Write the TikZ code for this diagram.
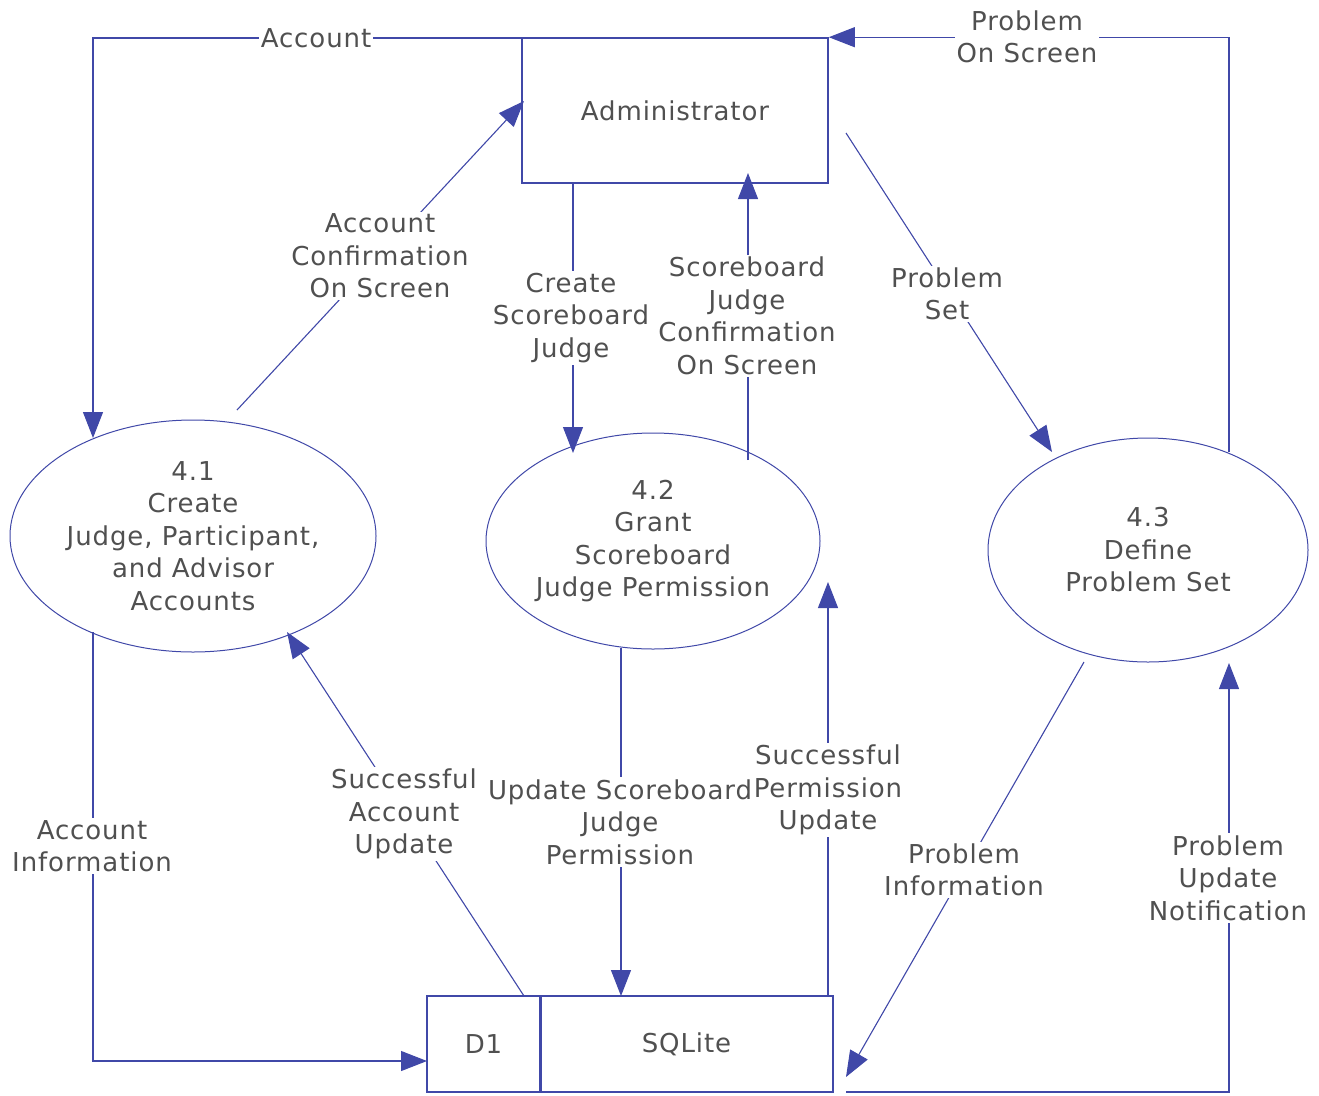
\documentclass[tikz,border=0pt]{standalone}
\usepackage{fontspec}
\setmainfont[LetterSpace=3.5]{DejaVu Sans}
\usetikzlibrary{shapes.geometric,arrows.meta}
\definecolor{ln}{RGB}{64,72,168}
\definecolor{tx}{RGB}{80,80,80}
\begin{document}
\begin{tikzpicture}[x=1pt,y=-1pt,
  txt/.style={text=tx,align=center,font=\fontsize{26}{32.5}\selectfont},
  flow/.style={draw=ln,line width=1.1pt,-{Triangle[length=26pt,width=20pt]}},
  lbl/.style={txt,fill=white,inner sep=2pt},
  proc/.style={txt,ellipse,draw=ln,line width=1pt,inner sep=0pt},
  ent/.style={txt,rectangle,draw=ln,line width=1.6pt,inner sep=0pt},
  storebox/.style={txt,rectangle,draw=ln,line width=1.3pt,inner sep=0pt,minimum height=96pt}]
\useasboundingbox (0,0) rectangle (1319,1095);
% nodes
\node[ent,minimum width=306pt,minimum height=145pt] (admin) at (675,110.5) {Administrator};
\node[proc,minimum width=366pt,minimum height=232pt] (p41) at (193,536) {4.1\\Create\\Judge, Participant,\\and Advisor\\Accounts};
\node[proc,minimum width=334pt,minimum height=216pt] (p42) at (653,541) {4.2\\Grant\\Scoreboard\\Judge Permission};
\node[proc,minimum width=320pt,minimum height=224pt] (p43) at (1148,550) {4.3\\Define\\Problem Set};
\node[storebox,minimum width=113pt] (d1) at (483.5,1044) {D1};
\node[storebox,minimum width=293pt] (sq) at (686.5,1044) {SQLite};
\draw[ln,line width=3pt] (d1.north east) -- (d1.south east);
% connector end points
\coordinate (a1s) at (541,38);   \coordinate (a1e) at (93,438);
\coordinate (c2s) at (237,410);  \coordinate (c2e) at (524,101);
\coordinate (c3s) at (573,183);  \coordinate (c3e) at (573,453);
\coordinate (c4s) at (748,460);  \coordinate (c4e) at (748,173);
\coordinate (c5s) at (846,133);  \coordinate (c5e) at (1052,452);
\coordinate (c6s) at (1229,452);
\coordinate (c7s) at (93,632);   \coordinate (c7e) at (427,1061);
\coordinate (c8s) at (524,996);  \coordinate (c8e) at (287,632);
\coordinate (c9s) at (621,648);  \coordinate (c9e) at (621,996);
\coordinate (c10s) at (828,996); \coordinate (c10e) at (828,582);
\coordinate (c11s) at (1084,662);\coordinate (c11e) at (846,1077);
\coordinate (c12s) at (846,1092);\coordinate (c12e) at (1229,663);
% connectors
\draw[flow] (a1s) -| (a1e);
\draw[flow] (c2s) -- (c2e);
\draw[flow] (c3s) -- (c3e);
\draw[flow] (c4s) -- (c4e);
\draw[flow] (c5s) -- (c5e);
\draw[flow] (c6s) |- (admin.north east);
\draw[flow] (c7s) |- (c7e);
\draw[flow] (c8s) -- (c8e);
\draw[flow] (c9s) -- (c9e);
\draw[flow] (c10s) -- (c10e);
\draw[flow] (c11s) -- (c11e);
\draw[flow] (c12s) -| (c12e);
% labels
\node[lbl] (l1) at (316,38) {Account};
\node[lbl] (l2) at (380,256) {Account\\Confirmation\\On Screen};
\node[lbl] (l3) at (571,318) {Create\\Scoreboard\\Judge};
\node[lbl] (l4) at (747,316) {Scoreboard\\Judge\\Confirmation\\On Screen};
\node[lbl] (l5) at (947,294) {Problem\\Set};
\node[lbl] (l6) at (1027,37) {Problem\\On Screen};
\node[lbl] (l7) at (92,846) {Account\\Information};
\node[lbl] (l8) at (404,814) {Successful\\Account\\Update};
\node[lbl] (l10) at (828,790) {Successful\\Permission\\Update};
\node[lbl] (l9) at (620,822) {Update Scoreboard\\Judge\\Permission};
\node[lbl] (l11) at (964,870) {Problem\\Information};
\node[lbl] (l12) at (1228,878) {Problem\\Update\\Notification};
\end{tikzpicture}
\end{document}
